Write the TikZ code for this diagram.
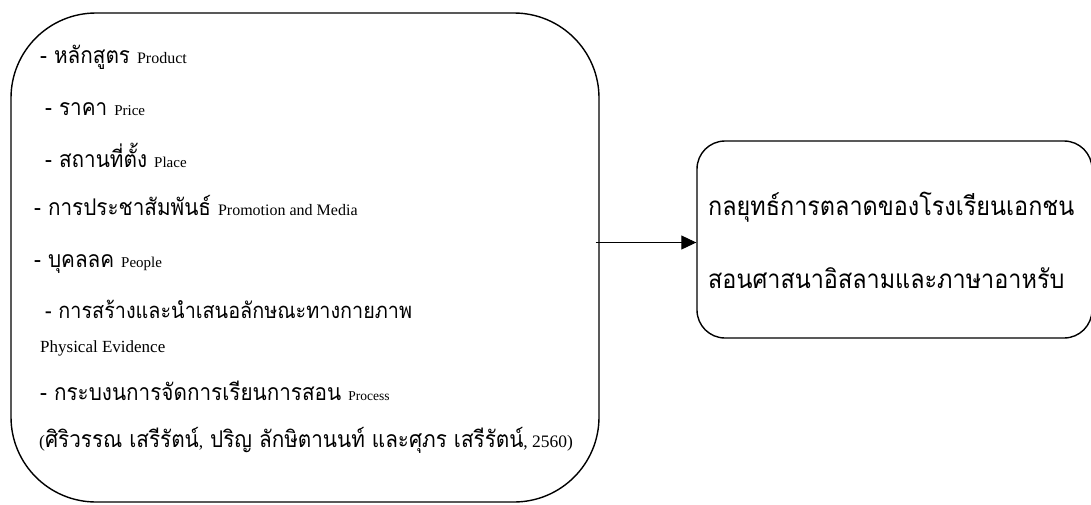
\documentclass[tikz,border=0pt]{standalone}
\usepackage{fontspec}
\setmainfont{Liberation Serif}
\newfontfamily\thaifont[Script=Thai, FakeStretch=0.9]{Loma}
\usetikzlibrary{arrows.meta, positioning}

\newcommand{\engtext}[2]{{\rmfamily\fontsize{#1}{#1}\selectfont #2}}

\begin{document}
\begin{tikzpicture}[
        x=1pt, y=-1pt,
        panel/.style={rectangle, draw=black, line width=1.4pt, rounded corners=85pt,
                      minimum width=588pt, minimum height=489pt, inner sep=0pt},
        outcome/.style={rectangle, draw=black, line width=1.4pt, rounded corners=28pt,
                      minimum width=395pt, minimum height=197pt, inner sep=0pt},
        item/.style={anchor=base west, inner sep=0pt, font=\thaifont\fontsize{23}{26}\selectfont},
        goal/.style={item, font=\thaifont\fontsize{26}{30}\selectfont},
        arrow/.style={line width=1pt, -{Triangle[length=15pt, width=14pt]}}
    ]
        \useasboundingbox (0,0) rectangle (1091,504);

        \node[panel] (mix) at (305,257.5) {};
        \node[outcome] (strategy) at (894.5,239.5) {};

        \node[item] (product) at (40,63) {- หลักสูตร \engtext{16}{Product}};
        \node[item] (price) at (45,115) {- ราคา \engtext{15}{Price}};
        \node[item] (place) at (45,167) {- สถานที่ตั้ง \engtext{15}{Place}};
        \node[item] (promotion) at (34,215) {- การประชาสัมพันธ์ \engtext{16}{Promotion and Media}};
        \node[item] (people) at (34,267) {- บุคลลค \engtext{15}{People}};
        \node[item, font=\thaifont\fontsize{22}{26}\selectfont] (physical) at (45,318) {- การสร้างและนำเสนอลักษณะทางกายภาพ};
        \node[item] (evidence) at (40,352) {\engtext{17}{Physical Evidence}};
        \node[item] (process) at (40,400) {- กระบงนการจัดการเรียนการสอน \engtext{13.5}{Process}};
        \node[item] (source) at (39,447)
            {\engtext{17.5}{(}ศิริวรรณ เสรีรัตน์\engtext{17.5}{,} ปริญ ลักษิตานนท์ และศุภร เสรีรัตน์\engtext{17.5}{, 2560)}};

        \node[goal] (goalone) at (708,215) {กลยุทธ์การตลาดของโรงเรียนเอกชน};
        \node[goal] (goaltwo) at (708,288) {สอนศาสนาอิสลามและภาษาอาหรับ};

        \coordinate (arrowstart) at (mix.east |- strategy.west);
        \draw[arrow] ([xshift=-4pt,yshift=-3pt]arrowstart) -- ([yshift=-3pt]strategy.west);
    \end{tikzpicture}
\end{document}
